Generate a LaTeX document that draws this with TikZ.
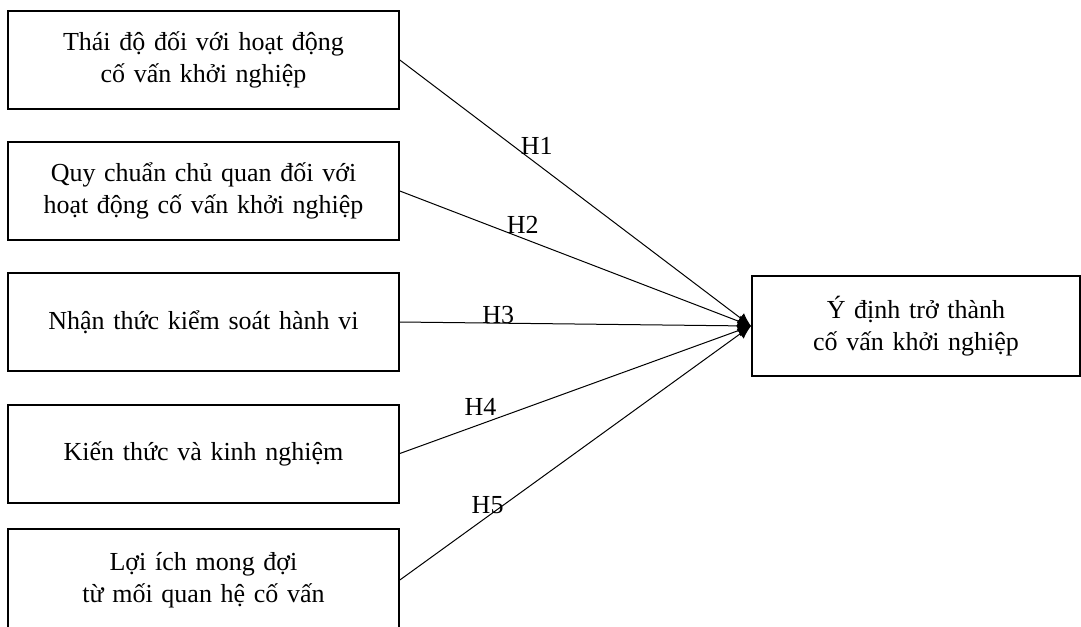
\documentclass[tikz,border=0pt]{standalone}
\usepackage{fontspec}
\setmainfont{Liberation Serif}
\usepackage{xcolor}
\usepackage{tikz}
\usetikzlibrary{shapes, arrows.meta, positioning}

\begin{document}
\begin{tikzpicture}[
        x=0.75pt, y=-0.75pt,
        factor_block/.style={rectangle, draw, line width=1.5pt, text width=280pt, align=center, font=\fontsize{19.5}{24}\selectfont, minimum width=293pt, minimum height=73.5pt},
        intent_block/.style={factor_block, text width=230pt, minimum width=246pt, minimum height=75pt},
        arrow/.style={-{Latex[length=10pt, width=9pt]}, line width=0.75pt, font=\fontsize{19.5}{24}\selectfont}
    ]
    \useasboundingbox (0,0) rectangle (1081,626);
    \node[factor_block] (attitude) at (203.5,60) {Thái độ đối với hoạt động\\ cố vấn khởi nghiệp};
    \node[factor_block] (norm) at (203.5,191) {Quy chuẩn chủ quan đối với\\ hoạt động cố vấn khởi nghiệp};
    \node[factor_block] (control) at (203.5,322) {Nhận thức kiểm soát hành vi};
    \node[factor_block] (knowledge) at (203.5,453.5) {Kiến thức và kinh nghiệm};
    \node[factor_block, minimum height=76pt] (benefit) at (203.5,580) {Lợi ích mong đợi\\ từ mối quan hệ cố vấn};
    \node[intent_block] (intent) at (916,326) {Ý định trở thành\\ cố vấn khởi nghiệp};
    \draw[arrow] (attitude.east) -- (intent.west) node[pos=0.39, above=3pt] {H1};
    \draw[arrow] (norm.east) -- (intent.west) node[pos=0.35, above] {H2};
    \draw[arrow] (control.east) -- (intent.west) node[pos=0.28, anchor=base] {H3};
    \draw[arrow] (knowledge.east) -- (intent.west) node[pos=0.23, above=3pt] {H4};
    \draw[arrow] (benefit.east) -- (intent.west) node[pos=0.25, above=-2pt] {H5};
    \end{tikzpicture}
\end{document}
